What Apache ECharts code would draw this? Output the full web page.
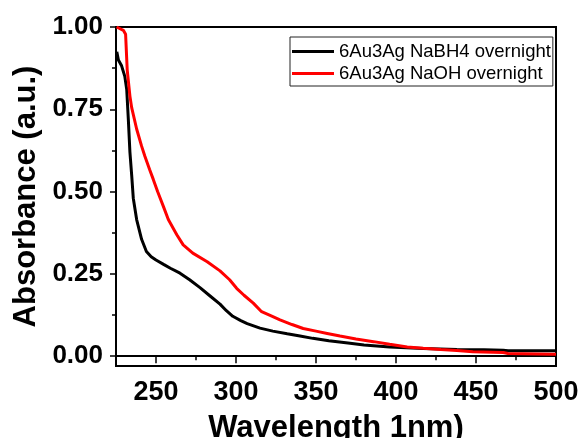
<!DOCTYPE html>
<html>
<head>
<meta charset="utf-8">
<script src="https://cdn.jsdelivr.net/npm/echarts@6/dist/echarts.min.js"></script>
<style>
  html, body { margin: 0; padding: 0; background: #fff; }
  #chart { width: 580px; height: 438px; }
</style>
</head>
<body>
<div id="chart"></div>
<script>
// NaBH4 sample (black)
const nabh4Wl = [225.5, 226.5, 228.5, 230.5, 231.7, 232.7, 233.7, 234.8, 235.8, 237.9, 241, 244, 247, 250, 255, 259, 265, 271, 277.5, 284, 290, 294, 298, 303, 307, 315, 323, 332, 340, 348, 358, 370, 380, 396, 417, 438, 455, 467, 470, 500];
const nabh4Abs = [0.925, 0.90, 0.882, 0.85, 0.81, 0.72, 0.62, 0.55, 0.48, 0.415, 0.355, 0.318, 0.302, 0.292, 0.278, 0.267, 0.252, 0.232, 0.208, 0.182, 0.158, 0.138, 0.121, 0.108, 0.099, 0.085, 0.076, 0.068, 0.061, 0.054, 0.047, 0.040, 0.034, 0.028, 0.023, 0.020, 0.019, 0.018, 0.016, 0.016];

// NaOH sample (red)
const naohWl = [225.4, 229.6, 231, 232, 233.7, 234.8, 237.9, 241, 243, 246, 248.3, 251, 254.6, 257.7, 263, 267, 273, 282, 290, 296, 300.4, 305, 310.8, 316, 322, 327.5, 335, 342, 350, 357, 365, 375, 386, 396, 407, 417, 428, 438, 448, 467, 470, 498, 500];
const naohAbs = [1.0, 0.99, 0.978, 0.87, 0.79, 0.755, 0.69, 0.638, 0.608, 0.567, 0.537, 0.50, 0.455, 0.415, 0.369, 0.338, 0.313, 0.287, 0.259, 0.232, 0.206, 0.185, 0.161, 0.135, 0.122, 0.11, 0.096, 0.084, 0.076, 0.069, 0.061, 0.052, 0.044, 0.036, 0.028, 0.024, 0.020, 0.017, 0.013, 0.011, 0.008, 0.006, 0.006];

const xTicks = [250, 300, 350, 400, 450, 500];
const xMinorTicks = [225, 275, 325, 375, 425, 475];
const yTicks = [0, 0.25, 0.5, 0.75, 1.0];
const yMinorTicks = [0.125, 0.375, 0.625, 0.875];

const font = 'Liberation Sans, Arial, sans-serif';
const pairs = (xs, ys) => xs.map((x, i) => [x, ys[i]]);

const myChart = echarts.init(document.getElementById('chart'));
myChart.setOption({
  animation: false,
  grid: {
    left: 116, right: 24, top: 27, bottom: 72,
    outerBoundsMode: 'none', containLabel: false,
    show: true, borderColor: '#000', borderWidth: 2, backgroundColor: 'transparent'
  },
  legend: {
    orient: 'vertical',
    left: 290, top: 37,
    padding: [5, 2, 3, 2],
    itemGap: 3,
    itemWidth: 42, itemHeight: 3,
    icon: 'rect',
    borderColor: '#222', borderWidth: 1,
    textStyle: { fontFamily: font, fontSize: 18.5, color: '#000' },
    data: ['6Au3Ag NaBH4 overnight', '6Au3Ag NaOH overnight']
  },
  xAxis: [
    {
      type: 'value', min: 225, max: 500,
      name: 'Wavelength 1nm)', nameLocation: 'middle', nameGap: 47,
      nameTextStyle: { fontFamily: font, fontSize: 31, fontWeight: 'bold', color: '#000' },
      axisLine: { lineStyle: { color: '#000', width: 2 } },
      axisTick: { customValues: xTicks, length: 7, lineStyle: { color: '#000', width: 1.5 } },
      axisLabel: { customValues: xTicks, margin: 13, fontFamily: font, fontSize: 27, fontWeight: 'bold', color: '#000' },
      splitLine: { show: false }
    },
    {
      type: 'value', min: 225, max: 500, position: 'bottom',
      axisLine: { show: false },
      axisTick: { customValues: xMinorTicks, length: 4, lineStyle: { color: '#000', width: 1.5 } },
      axisLabel: { show: false },
      splitLine: { show: false }
    }
  ],
  yAxis: [
    {
      type: 'value', min: -0.03, max: 1.0,
      name: 'Absorbance (a.u.)', nameLocation: 'middle', nameGap: 73,
      nameTextStyle: { fontFamily: font, fontSize: 31, fontWeight: 'bold', color: '#000' },
      axisLine: { show: true, lineStyle: { color: '#000', width: 2 } },
      axisTick: { show: true, customValues: yTicks, length: 6, lineStyle: { color: '#000', width: 1.5 } },
      axisLabel: {
        customValues: yTicks, margin: 13, fontFamily: font, fontSize: 26, fontWeight: 'bold', color: '#000',
        formatter: v => v.toFixed(2)
      },
      splitLine: { show: false }
    },
    {
      type: 'value', min: -0.03, max: 1.0, position: 'left',
      axisLine: { show: false },
      axisTick: { show: true, customValues: yMinorTicks, length: 4, lineStyle: { color: '#000', width: 1.5 } },
      axisLabel: { show: false },
      splitLine: { show: false }
    }
  ],
  series: [
    {
      name: '6Au3Ag NaBH4 overnight', type: 'line',
      xAxisIndex: 0, yAxisIndex: 0,
      showSymbol: false, symbol: 'none',
      data: pairs(nabh4Wl, nabh4Abs),
      lineStyle: { color: '#000', width: 3 },
      itemStyle: { color: '#000' }
    },
    {
      name: '6Au3Ag NaOH overnight', type: 'line',
      xAxisIndex: 0, yAxisIndex: 0,
      showSymbol: false, symbol: 'none',
      data: pairs(naohWl, naohAbs),
      lineStyle: { color: '#f00', width: 3 },
      itemStyle: { color: '#f00' }
    }
  ]
});
</script>
</body>
</html>
